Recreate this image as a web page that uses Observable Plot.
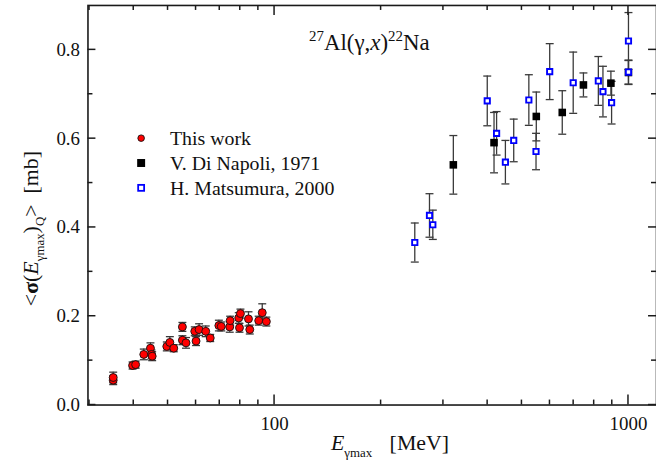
<!DOCTYPE html>
<html><head><meta charset="utf-8">
<script src="https://cdn.jsdelivr.net/npm/d3@7"></script>
<script src="https://cdn.jsdelivr.net/npm/@observablehq/plot@0.6"></script>
<style>html,body{margin:0;padding:0;background:#fff;overflow:hidden}</style>
</head><body><div id="chart"></div>
<script>
// ---- data ----
const seriesNames = ["This work", "V. Di Napoli, 1971", "H. Matsumura, 2000"];

const thisWorkE     = [35, 35, 39.7, 40.5, 42.7, 44.6, 44.9, 45.1, 49.6, 50.6, 51.9, 54.9, 54.9, 56.2, 59.5, 60.0, 61.2, 63.9, 65.8, 69.6, 70.7, 74.7, 74.9, 79.2, 80.1, 79.6, 84.4, 85.1, 90.2, 92.3, 94.8];
const thisWorkSigma = [0.056, 0.062, 0.089, 0.091, 0.114, 0.128, 0.114, 0.110, 0.132, 0.141, 0.128, 0.176, 0.146, 0.140, 0.166, 0.144, 0.170, 0.166, 0.151, 0.179, 0.177, 0.176, 0.190, 0.196, 0.206, 0.174, 0.194, 0.170, 0.190, 0.208, 0.188];
const thisWorkErr   = [0.010, 0.012, 0.008, 0.008, 0.012, 0.012, 0.010, 0.010, 0.010, 0.013, 0.008, 0.010, 0.010, 0.012, 0.010, 0.010, 0.013, 0.012, 0.008, 0.012, 0.010, 0.012, 0.010, 0.012, 0.010, 0.010, 0.016, 0.010, 0.010, 0.020, 0.010];

const diNapoliE     = [320, 417, 549, 650, 746, 892, 1000];
const diNapoliSigma = [0.541, 0.591, 0.650, 0.659, 0.721, 0.725, 0.749];
const diNapoliErr   = [0.066, 0.068, 0.055, 0.049, 0.027, 0.027, 0.027];

const matsumuraE     = [249, 274, 280, 399, 424, 449, 474, 523, 548, 599, 698, 822, 847, 896, 1000, 1000];
const matsumuraSigma = [0.366, 0.427, 0.406, 0.685, 0.612, 0.547, 0.596, 0.687, 0.571, 0.751, 0.726, 0.730, 0.706, 0.681, 0.820, 0.750];
const matsumuraErr   = [0.044, 0.049, 0.033, 0.056, 0.049, 0.049, 0.048, 0.057, 0.041, 0.063, 0.069, 0.055, 0.057, 0.048, 0.064, 0.027];

const xMajorTicks = [100, 1000];
const xMinorTicks = [30, 40, 50, 60, 70, 80, 90, 200, 300, 400, 500, 600, 700, 800, 900];
const yMajorTicks = [0, 0.2, 0.4, 0.6, 0.8];
const yMinorTicks = [0.1, 0.3, 0.5, 0.7];

// ---- build tables ----
const toRows = (E, S, Er) => E.map((e, i) => ({E: e, s: S[i], lo: S[i] - Er[i], hi: S[i] + Er[i]}));
const thisWork = toRows(thisWorkE, thisWorkSigma, thisWorkErr);
const diNapoli = toRows(diNapoliE, diNapoliSigma, diNapoliErr);
const matsumura = toRows(matsumuraE, matsumuraSigma, matsumuraErr);

const W = 660, H = 468, mL = 88, mR = 0, mT = 5, mB = 61;
const FONT = "Liberation Serif, Times New Roman, serif";
const axisColor = "#1a1a1a";
const barColor = "#3a3a3a";

const capSymbol = {draw(ctx, size) { const r = Math.sqrt(size / Math.PI); ctx.moveTo(-r, 0); ctx.lineTo(r, 0); }};

function errorMarks(rows) {
  return [
    Plot.ruleX(rows, {x: "E", y1: "lo", y2: "hi", stroke: barColor, strokeWidth: 1.3}),
    Plot.dot(rows, {x: "E", y: "lo", symbol: capSymbol, r: 4, stroke: barColor, strokeWidth: 1.3}),
    Plot.dot(rows, {x: "E", y: "hi", symbol: capSymbol, r: 4, stroke: barColor, strokeWidth: 1.3})
  ];
}

const svgEl = Plot.plot({
  width: W, height: H,
  marginLeft: mL, marginRight: mR, marginTop: mT, marginBottom: mB,
  style: {fontFamily: FONT, background: "white", color: "#111"},
  x: {type: "log", domain: [29.7, 1200], axis: null},
  y: {domain: [0, 0.9], axis: null},
  marks: [
    Plot.frame({stroke: axisColor, strokeWidth: 1.6}),
    Plot.axisX(xMajorTicks, {tickSize: 0, tickPadding: 12, tickFormat: d => String(d), fontSize: 19, label: null, fill: "#111"}),
    Plot.axisY(yMajorTicks, {tickSize: 0, tickPadding: 8, tickFormat: d3.format(".1f"), fontSize: 19, label: null, fill: "#111"}),
    // data
    ...errorMarks(thisWork),
    Plot.dot(thisWork, {x: "E", y: "s", r: 4, fill: "#ff0000", stroke: "#111", strokeWidth: 0.9}),
    ...errorMarks(diNapoli),
    ...errorMarks(matsumura),
    Plot.dot(diNapoli, {x: "E", y: "s", symbol: "square", r: 4.3, fill: "#000"}),
    Plot.dot(matsumura, {x: "E", y: "s", symbol: "square", r: 3.0, fill: "white", stroke: "#0000ff", strokeWidth: 1.9})
  ]
});
document.getElementById("chart").appendChild(svgEl);
const svg = d3.select(svgEl);

// ---- inward ticks on all four sides, placed with Plot's own scales ----
const xs = svgEl.scale("x"), ys = svgEl.scale("y");
const frameTop = mT, frameBottom = H - mB, frameLeft = mL, frameRight = W - mR;
const tg = svg.append("g");
const tickLine = (x1, y1, x2, y2) => tg.append("line")
  .attr("x1", x1).attr("y1", y1).attr("x2", x2).attr("y2", y2)
  .attr("stroke", axisColor).attr("stroke-width", 1.5);
const xTicks = [...xMajorTicks.map(v => [v, 10]), ...xMinorTicks.map(v => [v, 5])];
xTicks.forEach(([v, len]) => {
  const px = xs.apply(v);
  tickLine(px, frameBottom, px, frameBottom - len);
  tickLine(px, frameTop, px, frameTop + len);
});
const yTicks = [...yMajorTicks.map(v => [v, 8]), ...yMinorTicks.map(v => [v, 5])];
yTicks.forEach(([v, len]) => {
  const py = ys.apply(v);
  tickLine(frameLeft, py, frameLeft + len, py);
  tickLine(frameRight, py, frameRight - len, py);
});

// ---- title: 27Al(γ,x)22Na ----
const title = svg.append("text").attr("x", 311).attr("y", 50).attr("text-anchor", "start")
  .attr("font-family", FONT).attr("font-size", 23).attr("fill", "#111");
title.append("tspan").attr("font-size", 15).attr("dy", -9).text("27");
title.append("tspan").attr("dy", 9).text("Al(γ,");
title.append("tspan").attr("font-style", "italic").text("x");
title.append("tspan").text(")");
title.append("tspan").attr("font-size", 15).attr("dy", -9).text("22");
title.append("tspan").attr("dy", 9).text("Na");

// ---- x axis label ----
const xl = svg.append("text").attr("x", 333).attr("y", 453).attr("text-anchor", "start")
  .attr("font-family", FONT).attr("font-size", 22).attr("fill", "#111");
xl.append("tspan").attr("font-style", "italic").text("E");
xl.append("tspan").attr("font-size", 13).attr("dy", 7).text("γmax");
xl.append("tspan").attr("x", 392).attr("dy", -7).text("[MeV]");

// ---- y axis label ----
const yl = svg.append("text").attr("transform", "translate(38,230) rotate(-90)")
  .attr("text-anchor", "middle")
  .attr("font-family", FONT).attr("font-size", 22).attr("fill", "#111");
yl.append("tspan").text("<");
yl.append("tspan").attr("font-weight", "bold").text("σ");
yl.append("tspan").text("(");
yl.append("tspan").attr("font-style", "italic").text("E");
yl.append("tspan").attr("font-size", 13).attr("dy", 6).text("γmax");
yl.append("tspan").attr("dy", -6).text(")");
yl.append("tspan").attr("font-size", 13).attr("dy", 6).text("Q");
yl.append("tspan").attr("dy", -6).text(">\u00a0\u00a0[mb]");

// ---- legend ----
const lg = svg.append("g").attr("font-family", FONT).attr("font-size", 20).attr("fill", "#111").attr("text-anchor", "start");
const rowY = [139, 164, 189];
lg.append("circle").attr("cx", 142).attr("cy", rowY[0]).attr("r", 3.3).attr("fill", "#ff0000").attr("stroke", "#111").attr("stroke-width", 0.9);
lg.append("rect").attr("x", 138).attr("y", rowY[1] - 4).attr("width", 8).attr("height", 8).attr("fill", "#000");
lg.append("rect").attr("x", 139).attr("y", rowY[2] - 3).attr("width", 6).attr("height", 6).attr("fill", "white").attr("stroke", "#0000ff").attr("stroke-width", 1.8);
seriesNames.forEach((n, i) => lg.append("text").attr("x", 171).attr("y", rowY[i] + 7).text(n));
</script>
</body></html>
